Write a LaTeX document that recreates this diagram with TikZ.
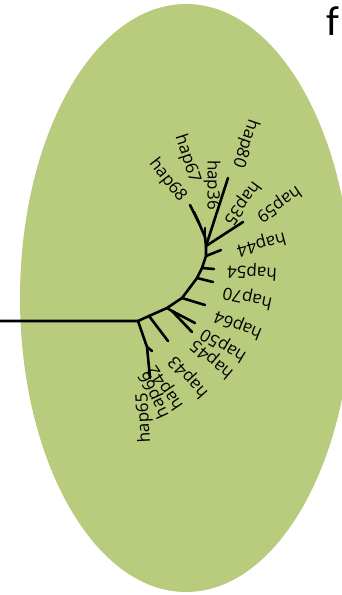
\documentclass[tikz,border=0pt]{standalone}
\usepackage{fontspec}
\setmainfont{Open Sans}
\newfontfamily\carl{Carlito}
\definecolor{blobgreen}{RGB}{185,204,126}
\begin{document}
\begin{tikzpicture}[x=1pt,y=-1pt,
  br/.style={line width=2.6pt,line cap=round,line join=round},
  lab/.style={anchor=east,inner sep=0pt,font=\fontsize{17}{17}\selectfont}]
\useasboundingbox (0,0) rectangle (342,595);
\begin{scope}
\clip (0,0) rectangle (342,595);
\fill[blobgreen] (186,298) ellipse [x radius=166, y radius=294];
\end{scope}
\node[anchor=base west,inner sep=0pt,font=\carl\fontsize{42}{42}\selectfont] (f) at (326,35) {f};
% tree coordinates
\coordinate (L) at (0,321);
\coordinate (R) at (138,321);
\coordinate (A) at (149,316);
\coordinate (C) at (167,308);
\coordinate (C2) at (172,311);
\coordinate (D) at (182,298);
\coordinate (E) at (197,278);
\coordinate (F) at (202,268);
\coordinate (G) at (206,256);
\coordinate (H) at (206,246);
\coordinate (U) at (205,237);
\coordinate (V) at (199,223);
\coordinate (g1) at (147,347);
% tips
\coordinate (t43) at (168,341);
\coordinate (t50) at (195,323);
\coordinate (t45) at (192,332);
\coordinate (t64) at (205,305);
\coordinate (t70) at (213,282);
\coordinate (t54) at (214,269);
\coordinate (t44) at (221,250);
\coordinate (t59) at (243,222);
\coordinate (t80) at (228,178);
\coordinate (t36) at (205,228);
\coordinate (t68) at (190,205);
\coordinate (t67) at (194,212);
\coordinate (t42) at (152,351);
\coordinate (t65) at (150,378);
% branches
\draw[br] (L) -- (R) -- (A) -- (C) -- (D) -- (E) -- (F) -- (G) -- (H) -- (U);
\draw[br] (R) -- (g1) -- (t65);
\draw[br] (g1) -- (t42);
\draw[br] (A) -- (t43);
\draw[br] (C) -- (C2) -- (t50);
\draw[br] (C2) -- (t45);
\draw[br] (D) -- (t64);
\draw[br] (E) -- (t70);
\draw[br] (F) -- (t54);
\draw[br] (G) -- (t44);
\draw[br] (H) -- (t59);
\draw[br] (H) -- (t80);
\draw[br] (U) -- (t36);
\draw[br] (U) -- (V) -- (t68);
\draw[br] (V) -- (t67);
% labels
\node[lab,rotate=-109] (l80) at (237,167) {hap80};
\node[lab,rotate=-126] (l35) at (227,223) {hap35};
\node[lab,rotate=-145] (l59) at (258,218) {hap59};
\node[lab,rotate=-165] (l44) at (237,250) {hap44};
\node[lab,rotate=177] (l54) at (227,270) {hap54};
\node[lab,rotate=168] (l70) at (223,292) {hap70};
\node[lab,rotate=158] (l64) at (215,315) {hap64};
\node[lab,rotate=149] (l50) at (202,332) {hap50};
\node[lab,rotate=140] (l45) at (193,343) {hap45};
\node[lab,rotate=132] (l43) at (172,358) {hap43};
\node[lab,rotate=124] (l42) at (152,367) {hap42};
\node[lab,rotate=115] (l66) at (144,372) {hap66};
\node[lab,rotate=93] (l65) at (143,393) {hap65};
\node[lab,rotate=-52] (l68) at (183,200) {hap68};
\node[lab,rotate=-72] (l67) at (195,183) {hap67};
\node[lab,rotate=-90] (l36) at (212,210) {hap36};
\end{tikzpicture}
\end{document}
